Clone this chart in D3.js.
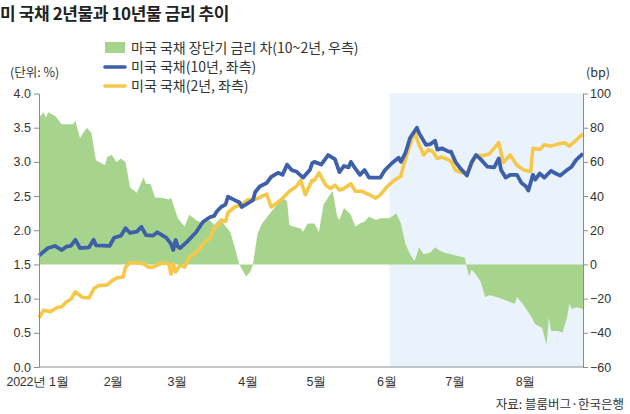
<!DOCTYPE html>
<html>
<head>
<meta charset="utf-8">
<script src="https://cdn.jsdelivr.net/npm/d3@7"></script>
<style>
  body { margin: 0; background: #fff; }
  svg { font-family: "Noto Sans CJK KR", "Noto Sans", sans-serif; }
  .axis text { fill: #333; font-size: 12.5px; }
  .axis path, .axis line { stroke: #8c8c8c; }
</style>
</head>
<body>
<div id="chart"></div>
<script>
// chart data: x values are day-of-year 2022
var monthLabels = ["2022년 1월", "2월", "3월", "4월", "5월", "6월", "7월", "8월"];
var leftTicks = [0, 0.5, 1.0, 1.5, 2.0, 2.5, 3.0, 3.5, 4.0];
var rightTicks = [-60, -40, -20, 0, 20, 40, 60, 80, 100];
var shadeStartDay = 157;
var endDay = 242;

// 미국 국채 10년 (%)
var tenDays = [3, 7, 10, 13, 15, 17, 19, 21, 25, 27, 28, 34, 36, 39, 41, 43, 46, 48, 50, 53, 55, 59, 61, 62, 63, 64, 65,
  68, 72, 75, 78, 80, 81, 83, 85, 86, 89, 91, 92, 94, 97, 98, 100, 103, 105, 108, 110, 112, 114, 116, 119,
  122, 123, 124, 127, 130, 133, 135, 137, 139, 140, 142, 144, 146, 148, 151, 153, 155, 158, 161, 162, 164,
  166, 169, 170, 173, 175, 177, 178, 180, 183, 184, 186, 188, 191, 193, 195, 197, 200, 203, 205, 206, 208,
  210, 213, 215, 217, 218, 220, 221, 223, 225, 228, 230, 232, 235, 237, 239, 242];
var tenVals = [1.63, 1.74, 1.77, 1.71, 1.76, 1.77, 1.86, 1.74, 1.75, 1.86, 1.78, 1.77, 1.89, 1.92, 2.03, 1.96, 1.98, 2.05, 1.93, 1.92, 1.97, 1.89, 1.80, 1.71, 1.86, 1.76, 1.74,
  1.83, 1.97, 2.12, 2.19, 2.21, 2.27, 2.34, 2.38, 2.49, 2.44, 2.41, 2.34, 2.38, 2.44, 2.56, 2.64, 2.69, 2.78, 2.84, 2.81, 2.96, 2.88, 2.86, 2.77,
  2.88, 2.98, 3.00, 2.96, 3.10, 3.04, 2.85, 2.94, 2.92, 3.00, 2.90, 2.81, 2.88, 2.77, 2.77, 2.77, 2.88, 2.98, 3.06, 3.00, 3.13,
  3.35, 3.50, 3.42, 3.25, 3.26, 3.31, 3.18, 3.20, 3.15, 3.15, 3.00, 2.91, 2.80, 2.99, 3.10, 3.04, 2.93, 2.92, 3.05, 2.88, 2.77,
  2.81, 2.81, 2.69, 2.64, 2.58, 2.81, 2.74, 2.83, 2.77, 2.87, 2.83, 2.80, 2.88, 2.93, 3.03, 3.12];

// 미국 국채 2년 (%)
var twoDays = [3, 5, 8, 11, 13, 15, 17, 19, 22, 25, 27, 29, 33, 35, 37, 40, 41, 43, 46, 49, 51, 53, 57, 60, 61, 62, 63, 65, 67,
  69, 72, 76, 78, 80, 82, 83, 85, 86, 89, 92, 95, 98, 100, 103, 105, 108, 111, 113, 116, 118, 120, 122, 123,
  124, 126, 129, 131, 133, 135, 137, 140, 142, 145, 148, 151, 153, 156, 159, 162, 163, 165, 168, 170, 172,
  174, 176, 178, 180, 183, 184, 186, 188, 191, 193, 195, 198, 201, 203, 205, 207, 210, 213, 216, 219, 220,
  223, 225, 228, 231, 234, 236, 239, 242];
var twoVals = [0.72, 0.83, 0.81, 0.87, 0.88, 0.95, 0.99, 1.10, 1.02, 1.01, 1.14, 1.19, 1.20, 1.26, 1.30, 1.32, 1.46, 1.53, 1.52, 1.51, 1.46, 1.46, 1.52, 1.51, 1.36, 1.51, 1.39, 1.49, 1.46,
  1.60, 1.67, 1.83, 1.88, 2.03, 2.08, 2.15, 2.13, 2.26, 2.34, 2.38, 2.45, 2.45, 2.48, 2.53, 2.34, 2.41, 2.50, 2.57, 2.64, 2.73, 2.52, 2.66, 2.73,
  2.73, 2.84, 2.66, 2.61, 2.66, 2.59, 2.61, 2.68, 2.57, 2.57, 2.52, 2.47, 2.52, 2.64, 2.73, 2.79, 2.93, 3.15, 3.44, 3.25, 3.10,
  3.18, 3.15, 3.05, 3.07, 3.03, 3.01, 2.88, 2.85, 2.83, 2.96, 3.10, 3.09, 3.12, 3.20, 3.28, 2.99, 3.10, 2.95, 2.88, 2.86, 3.20,
  3.18, 3.25, 3.23, 3.26, 3.28, 3.23, 3.32, 3.41];

// 장단기 금리 차 10년-2년 (bp)
var spreadDays = [3, 5, 6, 7, 10, 13, 18, 19, 21, 24, 26, 28, 32, 33, 35, 37, 39, 41, 43, 46, 47, 49, 50, 52, 54, 57, 60, 61,
  64, 67, 69, 72, 75, 78, 80, 82, 84, 87, 89, 91, 94, 96, 97, 99, 101, 104, 107, 110, 112, 113, 115, 118, 119,
  121, 124, 126, 128, 131, 132, 134, 135, 137, 140, 142, 144, 146, 148, 151, 153, 157, 160, 162, 164, 166, 168,
  170, 172, 175, 177, 179, 181, 184, 187, 190, 191, 192, 193, 195, 197, 199, 201, 204, 208, 212, 213, 216, 219,
  221, 224, 226, 227, 228, 231, 233, 235, 236, 237, 239, 242];
var spreadVals = [86, 89, 86, 89, 87, 82, 82, 84, 74, 80, 77, 61, 58, 63, 64, 60, 62, 60, 45, 42, 45, 51, 47, 47, 39, 39, 38, 39,
  27, 22, 29, 26, 24, 26, 23, 26, 24, 19, 10, 0, -7, -4, 0, 18, 24, 29, 34, 39, 37, 23, 22, 21, 19,
  24, 24, 19, 35, 41, 43, 28, 26, 33, 29, 22, 24, 25, 28, 26, 27, 27, 30, 24, 12, 6, 2,
  10, 6, 7, 10, 8, 7, 6, 5, 4, -2, -7, -3, -6, -10, -19, -18, -19, -21, -23, -19, -24, -30,
  -35, -37, -47, -31, -39, -39, -40, -31, -23, -26, -25, -26];

var svg = d3.select("#chart").append("svg")
    .attr("width", 630)
    .attr("height", 414);

var plotLeft = 39, plotRight = 583, plotTop = 93.5, plotBottom = 367;

function dayDate(n) {
    return d3.timeDay.offset(new Date(2022, 0, 1), n - 1);
}

var x = d3.scaleTime()
    .domain([dayDate(3), dayDate(endDay)])
    .range([plotLeft, plotRight]);

var yLeft = d3.scaleLinear().domain([0, 4]).range([plotBottom, plotTop]);
var yRight = d3.scaleLinear().domain([-60, 100]).range([plotBottom, plotTop]);

// shaded period
svg.append("rect")
    .attr("x", x(dayDate(shadeStartDay)))
    .attr("y", plotTop)
    .attr("width", x(dayDate(endDay)) - x(dayDate(shadeStartDay)))
    .attr("height", plotBottom - plotTop)
    .attr("fill", "#eaf3fc");

// spread area
var spread = spreadDays.map((d, i) => ({ date: dayDate(d), v: spreadVals[i] }));
var area = d3.area()
    .x(d => x(d.date))
    .y0(yRight(0))
    .y1(d => yRight(d.v));
svg.append("path")
    .datum(spread)
    .attr("d", area)
    .attr("fill", "#a6d48c");

// lines
var line = d3.line()
    .x(d => x(d.date))
    .y(d => yLeft(d.v));

var two = twoDays.map((d, i) => ({ date: dayDate(d), v: twoVals[i] }));
var ten = tenDays.map((d, i) => ({ date: dayDate(d), v: tenVals[i] }));

svg.append("path")
    .datum(two)
    .attr("d", line)
    .attr("fill", "none")
    .attr("stroke", "#f5c84a")
    .attr("stroke-width", 3.6)
    .attr("stroke-linejoin", "round");

svg.append("path")
    .datum(ten)
    .attr("d", line)
    .attr("fill", "none")
    .attr("stroke", "#3d60a8")
    .attr("stroke-width", 3.8)
    .attr("stroke-linejoin", "round");

// axes
svg.append("g")
    .attr("class", "axis")
    .attr("transform", `translate(${plotLeft},0)`)
    .call(d3.axisLeft(yLeft).tickValues(leftTicks).tickFormat(d3.format(".1f")).tickSize(5).tickSizeOuter(0).tickPadding(3));

svg.append("g")
    .attr("class", "axis")
    .attr("transform", `translate(${plotRight},0)`)
    .call(d3.axisRight(yRight).tickValues(rightTicks).tickSize(5).tickSizeOuter(0).tickPadding(2));

svg.append("line")
    .attr("x1", plotLeft).attr("x2", plotRight)
    .attr("y1", plotBottom).attr("y2", plotBottom)
    .attr("stroke", "#8c8c8c");

// month labels at month starts
var monthStarts = monthLabels.map((m, i) => new Date(2022, i, 1));
var monthAxis = svg.append("g")
    .attr("class", "axis")
    .attr("transform", `translate(0,${plotBottom})`)
    .call(d3.axisBottom(x).tickValues(monthStarts)
        .tickFormat((d, i) => monthLabels[i]).tickSize(0).tickPadding(10));
monthAxis.select(".domain").remove();
monthAxis.selectAll("text")
    .attr("text-anchor", (d, i) => i === 0 ? "start" : "middle")
    .attr("letter-spacing", -0.3)
    .attr("dx", (d, i) => i === 0 ? 6 - x(d) : 8);

// titles and units
svg.append("text")
    .attr("x", 0).attr("y", 20)
    .attr("font-size", 17)
    .attr("font-weight", 700)
    .attr("letter-spacing", -0.4)
    .attr("fill", "#222")
    .text("미 국채 2년물과 10년물 금리 추이");

svg.append("text")
    .attr("x", 10).attr("y", 77)
    .attr("font-size", 12.5).attr("fill", "#333")
    .text("(단위: %)");

svg.append("text")
    .attr("x", 586).attr("y", 77)
    .attr("font-size", 12.5).attr("fill", "#333")
    .text("(bp)");

svg.append("text")
    .attr("x", 624).attr("y", 409)
    .attr("text-anchor", "end")
    .attr("font-size", 12.5).attr("fill", "#333")
    .text("자료: 블룸버그·한국은행");

// legend
var legendItems = ["마국 국채 장단기 금리 차(10~2년, 우측)", "미국 국채(10년, 좌측)", "미국 국채(2년, 좌측)"];
var legendColors = ["#a6d48c", "#3d60a8", "#f5c84a"];
var legend = svg.append("g").attr("transform", "translate(105,48)");
legendItems.forEach(function(t, i) {
    var g = legend.append("g").attr("transform", `translate(0,${i * 19})`);
    if (i === 0) {
        g.append("rect").attr("x", 0).attr("y", -6).attr("width", 20).attr("height", 11).attr("fill", legendColors[i]);
    } else {
        g.append("line").attr("x1", 0).attr("x2", 20).attr("y1", 0).attr("y2", 0)
            .attr("stroke", legendColors[i]).attr("stroke-width", 3.6).attr("stroke-linecap", "round");
    }
    g.append("text")
        .attr("x", 26).attr("y", 5)
        .attr("font-size", 14).attr("fill", "#333")
        .text(t);
});
</script>
</body>
</html>
